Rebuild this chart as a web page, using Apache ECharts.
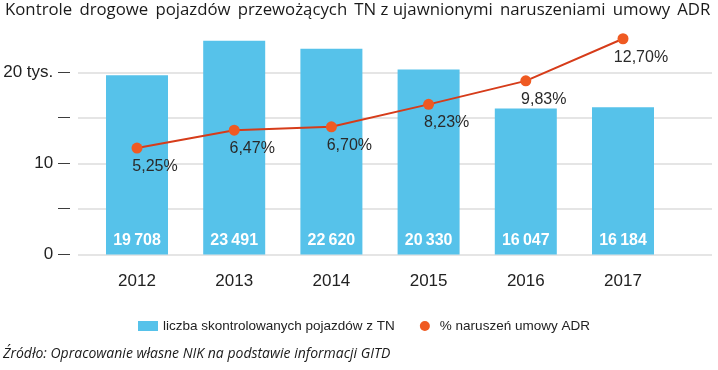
<!DOCTYPE html>
<html>
<head>
<meta charset="utf-8">
<script src="https://cdn.jsdelivr.net/npm/echarts@6/dist/echarts.min.js"></script>
<style>
html,body{margin:0;padding:0;background:#fff;}
#chart{width:718px;height:370px;}
</style>
</head>
<body>
<div id="chart"></div>
<script>
const titleText = 'Kontrole \u2009drogowe \u2009pojazdów \u2009przewożących \u2009TN z ujawnionymi \u2009naruszeniami \u2009umowy \u2009ADR';
const sourceText = 'Źródło: Opracowanie własne NIK na podstawie informacji GITD';
const years = ['2012', '2013', '2014', '2015', '2016', '2017'];
const vehicles = [19708, 23491, 22620, 20330, 16047, 16184];
const violationPct = [5.25, 6.47, 6.70, 8.23, 9.83, 12.70];
const seriesNames = ['liczba skontrolowanych pojazdów z TN', '% naruszeń umowy ADR'];
const yTickLabels = {0: '0', 5000: '', 10000: '10', 15000: '', 20000: '20 tys.'};

const fmtThousands = v => String(v).replace(/\B(?=(\d{3})+(?!\d))/g, '\u2009');

const chart = echarts.init(document.getElementById('chart'), null, {renderer: 'canvas'});
const gridTop = 27, gridHeight = 227.5;
chart.setOption({
  animation: false,
  backgroundColor: '#fff',
  textStyle: {fontFamily: '"Liberation Sans", Arial, sans-serif'},
  title: [
    {text: titleText, left: 5, top: 2, padding: 0,
     textStyle: {fontFamily: '"Open Sans", sans-serif', fontSize: 16.8, fontWeight: 'normal', color: '#1a1a1a'}},
    {text: sourceText, left: 3, top: 347, padding: 0,
     textStyle: {fontFamily: '"Open Sans", sans-serif', fontSize: 14, fontStyle: 'italic', fontWeight: 'normal', color: '#1a1a1a'}}
  ],
  legend: {
    left: 133, top: 314,
    itemWidth: 20, itemHeight: 10, itemGap: 25,
    textStyle: {fontSize: 13.5, color: '#222', fontFamily: '"Liberation Sans", Arial, sans-serif'},
    data: [
      {name: seriesNames[0], icon: 'rect'},
      {name: seriesNames[1], icon: 'circle'}
    ]
  },
  grid: [
    {left: 88.4, right: 46.4, top: gridTop, height: gridHeight},
    {left: 78, right: 6, top: gridTop, height: gridHeight}
  ],
  xAxis: [
    {type: 'category', gridIndex: 0, data: years,
     axisLine: {show: false}, axisTick: {show: false},
     axisLabel: {fontSize: 17, color: '#222', margin: 18}},
    {type: 'value', gridIndex: 1, min: 0, max: 1, show: false}
  ],
  yAxis: [
    {type: 'value', gridIndex: 1, min: 0, max: 25000, interval: 5000,
     axisLine: {show: false}, axisTick: {show: false},
     splitLine: {show: true, lineStyle: {color: ['#dcdcdc', '#dcdcdc', '#dcdcdc', '#dcdcdc', '#dcdcdc', 'rgba(0,0,0,0)'], width: 1.5}},
     axisLabel: {
       margin: 8, color: '#222', fontSize: 17,
       formatter: v => {
         if (!(v in yTickLabels)) return '';
         const t = yTickLabels[v];
         return (t ? '{t|' + t + ' }' : '') + '{d|—}';
       },
       rich: {t: {fontSize: 17, color: '#222'}, d: {fontSize: 12, color: '#222'}}
     }},
    {type: 'value', gridIndex: 0, min: 0, max: 25000, show: false},
    {type: 'value', gridIndex: 0, min: -2, max: 13.5, show: false}
  ],
  series: [
    {
      name: seriesNames[0], type: 'bar', xAxisIndex: 0, yAxisIndex: 1,
      data: vehicles, barWidth: 62,
      itemStyle: {color: '#56c2ea'},
      label: {show: true, position: 'insideBottom', distance: 6, color: '#fff',
              fontSize: 16, fontWeight: 'bold', formatter: p => fmtThousands(p.value),
              fontFamily: '"Liberation Sans Narrow", "Liberation Sans", Arial, sans-serif'}
    },
    {
      name: seriesNames[1], type: 'line', xAxisIndex: 0, yAxisIndex: 2,
      data: violationPct, symbol: 'circle', symbolSize: 11,
      lineStyle: {color: '#d63c1a', width: 2},
      itemStyle: {color: '#ef5a22'},
      label: {show: true, position: 'bottom', distance: 5, offset: [18, 0],
              fontSize: 16, color: '#2a2a2a',
              formatter: p => p.value.toFixed(2).replace('.', ',') + '%'},
      z: 5
    }
  ]
});
</script>
</body>
</html>
